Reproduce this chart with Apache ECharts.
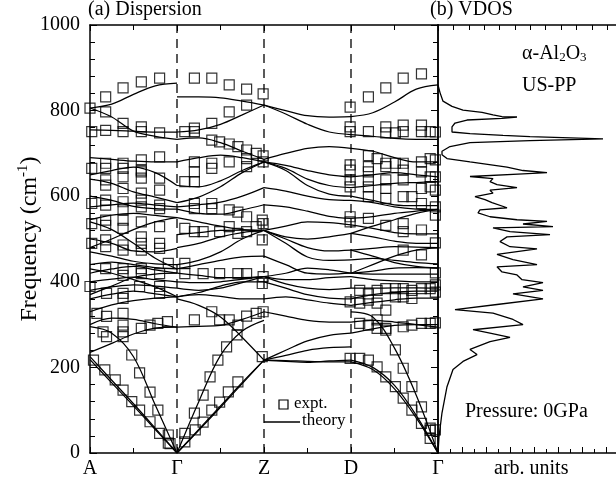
<!DOCTYPE html>
<html><head><meta charset="utf-8">
<script src="https://cdn.jsdelivr.net/npm/echarts@6/dist/echarts.min.js"></script>
<style>html,body{margin:0;padding:0;background:#fff}#c{width:616px;height:484px}</style>
</head><body><div id="c"></div>
<script>
// ---- data ----
const xLabels = ['A', 'Γ', 'Z', 'D', 'Γ'];
const yTicks = [0, 200, 400, 600, 800, 1000];
const tPos = [0, 0.25, 0.5, 0.75, 1];
// theory branches per segment, frequency (cm-1) at tPos
const segAG = [
  [806, 815, 838, 858, 864], [806, 785, 752, 740, 733], [755, 754, 752, 750, 750],
  [690, 686, 682, 680, 680], [650, 660, 668, 655, 625], [640, 630, 610, 598, 585],
  [600, 590, 576, 571, 570], [575, 580, 584, 579, 575], [545, 556, 560, 555, 550],
  [480, 500, 522, 540, 550], [540, 522, 490, 455, 430], [500, 490, 472, 470, 478],
  [470, 460, 448, 442, 440], [440, 446, 440, 433, 430], [420, 430, 436, 428, 420],
  [430, 420, 405, 388, 365], [370, 390, 410, 418, 420], [400, 406, 411, 405, 400],
  [380, 388, 393, 390, 385], [360, 371, 378, 372, 365], [330, 346, 356, 362, 365],
  [300, 315, 312, 302, 294], [235, 256, 278, 292, 294], [295, 280, 225, 112, 0],
  [225, 170, 115, 58, 0], [218, 164, 110, 55, 0]
];
const segGZ = [
  [832, 832, 830, 822, 813], [750, 755, 768, 790, 813], [733, 736, 725, 705, 686],
  [680, 690, 696, 690, 680], [625, 622, 636, 660, 680], [585, 598, 622, 655, 680],
  [575, 580, 586, 600, 620], [570, 560, 558, 568, 580], [550, 540, 530, 522, 520],
  [510, 515, 520, 521, 520], [480, 490, 505, 515, 520], [440, 450, 470, 500, 520],
  [430, 440, 450, 458, 460], [420, 415, 410, 410, 412], [400, 398, 400, 406, 412],
  [385, 380, 385, 398, 412], [365, 375, 390, 400, 400], [360, 345, 318, 270, 217],
  [365, 370, 366, 360, 360], [294, 296, 298, 312, 330], [0, 120, 228, 285, 310],
  [0, 55, 110, 165, 217], [0, 53, 107, 162, 217]
];
const segZD = [
  [813, 800, 788, 785, 786], [813, 792, 768, 750, 744], [686, 700, 712, 716, 712],
  [680, 672, 660, 650, 645], [680, 665, 640, 625, 620], [680, 660, 625, 605, 600],
  [620, 612, 600, 592, 590], [580, 575, 565, 553, 548], [520, 530, 540, 538, 533],
  [520, 505, 500, 505, 513], [520, 500, 480, 472, 474], [520, 490, 458, 450, 451],
  [460, 440, 420, 418, 420], [412, 420, 432, 428, 420], [412, 405, 405, 410, 412],
  [412, 395, 385, 382, 385], [400, 385, 370, 362, 360], [360, 365, 358, 350, 345],
  [330, 320, 310, 306, 306], [217, 240, 262, 275, 280], [217, 228, 240, 246, 248],
  [217, 214, 212, 215, 217], [217, 216, 214, 213, 213]
];
const segDG = [
  [786, 795, 820, 850, 860], [744, 740, 735, 733, 733], [712, 705, 690, 680, 680],
  [645, 650, 655, 650, 645], [620, 625, 630, 632, 634], [600, 590, 580, 578, 578],
  [590, 585, 575, 570, 569], [548, 552, 560, 565, 569], [533, 525, 515, 512, 512],
  [513, 530, 545, 560, 569], [474, 460, 445, 436, 432], [420, 440, 460, 474, 480],
  [513, 505, 495, 490, 490], [474, 478, 482, 481, 480], [451, 455, 450, 445, 442],
  [420, 425, 432, 433, 432], [420, 418, 418, 418, 418], [412, 405, 402, 400, 400],
  [385, 385, 386, 386, 385], [360, 370, 375, 378, 378], [345, 352, 358, 362, 362],
  [306, 310, 306, 300, 294], [330, 318, 245, 135, 0], [280, 290, 298, 300, 300],
  [217, 200, 158, 88, 0], [213, 195, 150, 82, 0]
];
// experimental points [path position, frequency]
const expt = [
  [0.0,806],[0.18,797],[0.18,832],[0.38,853],[0.59,867],[0.80,876],
  [0.02,751],[0.18,754],[0.38,751],[0.59,751],[0.80,748],[0.38,770],[0.59,762],
  [0.02,665],[0.18,677],[0.18,665],[0.38,677],[0.38,665],[0.59,685],[0.80,692],[0.59,661],
  [0.18,638],[0.18,626],[0.38,645],[0.38,618],[0.59,657],[0.59,642],[0.80,642],[0.80,614],
  [0.02,583],[0.18,591],[0.18,579],[0.38,587],[0.38,568],[0.59,607],[0.59,591],[0.59,575],[0.80,579],[0.80,571],
  [0.02,536],[0.18,544],[0.18,532],[0.38,544],[0.38,525],[0.59,540],[0.80,529],
  [0.02,490],[0.18,498],[0.18,482],[0.38,486],[0.38,474],[0.59,505],[0.59,490],[0.59,474],[0.80,490],[0.80,478],[0.90,443],
  [0.18,431],[0.38,431],[0.38,415],[0.59,431],[0.59,419],[0.80,419],
  [0.0,389],[0.19,373],[0.38,373],[0.38,361],[0.57,389],[0.80,389],[0.80,373],
  [0.08,326],[0.19,319],[0.38,326],[0.38,299],[0.59,291],[0.69,299],[0.78,303],[0.89,307],
  [0.15,283],[0.19,272],[0.38,283],[0.38,272],
  [0.04,217],[0.17,194],[0.29,171],[0.38,147],[0.48,120],[0.57,100],[0.69,73],[0.80,46],[0.92,22],
  [0.48,229],[0.57,187],[0.69,142],[0.78,100],[0.90,42],[0.90,23],
  [1.20,876],[1.40,876],[1.60,860],[1.80,850],[1.99,839],[1.60,797],[1.80,813],
  [1.09,751],[1.20,751],[1.20,759],[1.40,770],
  [1.40,731],[1.49,727],[1.60,722],[1.70,716],[1.80,708],[1.91,700],[1.99,694],
  [1.20,680],[1.20,657],[1.40,677],[1.40,665],[1.60,680],[1.80,688],[1.80,669],[1.99,680],
  [1.09,634],[1.20,634],
  [1.20,583],[1.20,571],[1.40,583],[1.40,571],[1.60,568],[1.70,563],[1.80,552],[1.99,536],
  [1.09,525],[1.20,517],[1.30,517],[1.49,517],[1.60,529],[1.70,513],[1.80,517],[1.91,529],
  [1.09,443],[1.09,419],[1.30,419],[1.49,419],[1.70,419],[1.80,419],[1.99,412],
  [1.20,311],[1.40,330],[1.49,311],[1.60,311],[1.70,299],[1.80,320],[1.91,326],[1.99,330],
  [1.09,46],[1.20,93],[1.30,135],[1.38,178],[1.47,217],[1.57,248],[1.69,276],
  [1.09,26],[1.21,54],[1.30,72],[1.40,100],[1.49,119],[1.59,143],[1.70,166],
  [1.98,544],[1.98,498],[1.98,396],[1.98,225],
  [2.99,808],[3.20,832],[3.40,853],[3.60,876],[3.81,886],
  [2.99,762],[2.99,751],[3.20,751],[3.40,762],[3.40,748],[3.51,748],[3.60,766],[3.60,751],[3.81,766],[3.81,751],[3.91,751],
  [2.99,673],[2.99,661],[3.20,695],[3.30,688],[3.40,677],[3.51,677],[3.60,677],[3.81,680],[3.91,688],
  [3.20,669],[3.20,657],[3.40,669],[3.60,661],[3.81,657],[3.91,645],
  [2.99,638],[2.99,622],[3.20,638],[3.20,622],[3.40,638],[3.40,618],[3.60,638],[3.60,599],[3.81,618],[3.91,622],
  [3.20,599],[3.40,595],[3.70,599],[3.81,583],
  [2.99,552],[2.99,540],[3.20,548],[3.40,532],[3.60,536],[3.60,517],[3.81,521],
  [3.60,474],[3.81,463],
  [3.97,750],[3.97,685],[3.97,645],[3.97,614],[3.97,575],[3.97,556],[3.97,491],[3.97,421],[3.97,393],[3.97,376],
  [3.10,380],[3.20,372],[3.30,380],[3.40,384],[3.51,384],[3.60,384],[3.70,380],[3.81,384],[3.91,384],
  [3.20,357],[3.30,350],[3.40,334],[3.51,365],[3.60,365],[3.70,361],
  [2.99,353],[3.10,350],[3.30,311],[3.40,291],
  [3.10,303],[3.20,299],[3.30,291],[3.40,287],[3.60,295],[3.70,299],[3.81,303],[3.91,303],[3.97,304],
  [2.99,221],[3.10,221],[3.20,217],[3.30,201],[3.40,178],[3.51,155],[3.60,128],[3.70,100],[3.81,69],[3.91,53],[3.91,34],[3.97,54],
  [3.51,241],[3.60,198],[3.70,155],[3.81,108],[3.91,58]
];
// VDOS [intensity (arb.), frequency]
const vdos = [
  [0,860],[2,842],[5,822],[14,810],[25,801],[44,796],[55,790],[64,786],[79,785],[64,782],
  [29,778],[17,771],[14,762],[14,750],[32,746],[65,742],[92,739],[165,734],[92,730],[32,725],
  [12,716],[4,705],[4,697],[9,688],[32,680],[69,668],[85,660],[109,655],[85,652],[32,646],
  [55,641],[52,634],[59,627],[79,620],[52,614],[55,607],[37,599],[47,592],[54,585],[69,573],
  [42,568],[40,561],[52,552],[79,545],[109,541],[85,535],[115,529],[55,526],[72,517],[112,510],
  [69,505],[62,494],[72,482],[99,477],[59,464],[75,452],[99,440],[59,435],[64,423],[79,416],
  [84,405],[105,398],[85,388],[105,380],[75,372],[105,360],[59,347],[17,335],[55,327],[75,312],
  [85,300],[35,288],[52,280],[72,270],[52,260],[32,242],[39,230],[25,214],[15,195],[9,155],
  [4,94],[1,38],[0,0]
];

// ---- chart ----
const FONT = 'Liberation Serif';
const chart = echarts.init(document.getElementById('c'), null, {renderer: 'canvas'});
const series = [];
[segAG, segGZ, segZD, segDG].forEach((seg, s) => {
  seg.forEach(b => {
    series.push({
      type: 'line', xAxisIndex: 0, yAxisIndex: 0, silent: true, smooth: 0.35,
      showSymbol: false, z: 2,
      lineStyle: {color: '#000', width: 1.25},
      data: b.map((v, i) => [s + tPos[i], v])
    });
  });
});
[1, 2, 3].forEach(p => {
  series.push({
    type: 'line', xAxisIndex: 0, yAxisIndex: 0, silent: true, showSymbol: false, z: 1,
    lineStyle: {color: '#000', width: 1.3, type: [9, 6]},
    data: [[p, 0], [p, 1000]]
  });
});
series.push({
  type: 'scatter', xAxisIndex: 0, yAxisIndex: 0, symbol: 'rect', symbolSize: 10, z: 3,
  itemStyle: {color: 'rgba(0,0,0,0)', borderColor: '#000', borderWidth: 1.2},
  data: expt
});
series.push({
  type: 'line', xAxisIndex: 2, yAxisIndex: 2, showSymbol: false, smooth: false,
  lineStyle: {color: '#000', width: 1.3}, data: vdos
});

const axLine = {show: true, onZero: false, lineStyle: {color: '#000', width: 1.5}};
const tick = (len) => ({show: true, inside: true, length: len, lineStyle: {color: '#000', width: 1}});
const option = {
  animation: false,
  backgroundColor: '#fff',
  grid: [
    {left: 90, top: 25, width: 348, height: 428, containLabel: false, outerBoundsMode: 'none'},
    {left: 438, top: 25, width: 200, height: 428, containLabel: false, outerBoundsMode: 'none'}
  ],
  xAxis: [
    {gridIndex: 0, type: 'value', position: 'bottom', min: 0, max: 4, interval: 1,
     axisLine: axLine, splitLine: {show: false}, axisTick: tick(6),
     minorTick: {show: true, splitNumber: 2, length: 5, lineStyle: {color: '#000'}},
     axisLabel: {formatter: v => xLabels[Math.round(v)], color: '#000', fontFamily: FONT, fontSize: 20, margin: 6}},
    {gridIndex: 0, type: 'value', position: 'top', min: 0, max: 4, interval: 1,
     axisLine: axLine, splitLine: {show: false}, axisTick: tick(6),
     minorTick: {show: true, splitNumber: 2, length: 5, lineStyle: {color: '#000'}},
     axisLabel: {show: false}},
    {gridIndex: 1, type: 'value', position: 'bottom', min: 0, max: 200, interval: 24,
     axisLine: axLine, splitLine: {show: false}, axisTick: tick(6),
     minorTick: {show: true, splitNumber: 2, length: 4, lineStyle: {color: '#000'}},
     axisLabel: {show: false}},
    {gridIndex: 1, type: 'value', position: 'top', min: 0, max: 195, interval: 15,
     axisLine: axLine, splitLine: {show: false}, axisTick: tick(5),
     axisLabel: {show: false}}
  ],
  yAxis: [
    {gridIndex: 0, type: 'value', position: 'left', min: 0, max: 1000, interval: 200,
     axisLine: axLine, splitLine: {show: false}, axisTick: tick(7),
     minorTick: {show: true, splitNumber: 5, length: 5, lineStyle: {color: '#000'}},
     axisLabel: {color: '#000', fontFamily: FONT, fontSize: 20, margin: 10,
                 formatter: v => yTicks.includes(v) ? String(v) : ''},
     name: '{a|Frequency (cm}{s|-1}{a|)}', nameLocation: 'middle', nameGap: 46, nameRotate: 90,
     nameMoveOverlap: false,
     nameTextStyle: {color: '#000', rich: {
       a: {fontFamily: FONT, fontSize: 24, color: '#000', lineHeight: 28, verticalAlign: 'middle'},
       s: {fontFamily: FONT, fontSize: 15, color: '#000', lineHeight: 14, verticalAlign: 'top'}}}},
    {gridIndex: 0, type: 'value', position: 'right', min: 0, max: 1000, interval: 200,
     axisLine: axLine, splitLine: {show: false}, axisTick: tick(7),
     minorTick: {show: true, splitNumber: 5, length: 5, lineStyle: {color: '#000'}},
     axisLabel: {show: false}},
    {gridIndex: 1, type: 'value', position: 'left', min: 0, max: 1000, interval: 200,
     axisLine: axLine, splitLine: {show: false}, axisTick: {show: false}, axisLabel: {show: false}}
  ],
  graphic: [
    {type: 'text', left: 88, top: 0, style: {text: '(a) Dispersion', font: '20px "Liberation Serif"', fill: '#000'}},
    {type: 'text', left: 430, top: 0, style: {text: '(b) VDOS', font: '20px "Liberation Serif"', fill: '#000'}},
    {type: 'text', left: 522, top: 44, style: {text: 'α-Al{s|2}O{s|3}', font: '20px "Liberation Serif"', fill: '#000',
      rich: {s: {font: '13px "Liberation Serif"', fill: '#000', verticalAlign: 'bottom', lineHeight: 13}}}},
    {type: 'text', left: 522, top: 76, style: {text: 'US-PP', font: '20px "Liberation Serif"', fill: '#000'}},
    {type: 'text', left: 465, top: 402, style: {text: 'Pressure: 0GPa', font: '20px "Liberation Serif"', fill: '#000'}},
    {type: 'text', left: 494, top: 459, style: {text: 'arb. units', font: '20px "Liberation Serif"', fill: '#000'}},
    {type: 'rect', shape: {x: 279, y: 400, width: 9, height: 9}, style: {fill: 'none', stroke: '#000', lineWidth: 1.2}},
    {type: 'text', left: 294, top: 395, style: {text: 'expt.', font: '17px "Liberation Serif"', fill: '#000'}},
    {type: 'line', shape: {x1: 264, y1: 422, x2: 300, y2: 422}, style: {stroke: '#000', lineWidth: 1.3}},
    {type: 'text', left: 302, top: 412, style: {text: 'theory', font: '17px "Liberation Serif"', fill: '#000'}}
  ],
  series: series
};
chart.setOption(option);
</script></body></html>
